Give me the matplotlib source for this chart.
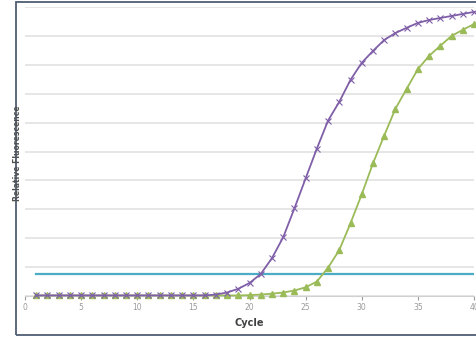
import matplotlib
matplotlib.use("Agg")
import matplotlib.pyplot as plt
from matplotlib.patches import Rectangle

cycles = list(range(1, 41))
sample_a = [0.02]*16 + [0.05, 0.12, 0.25, 0.45, 0.76, 1.31, 2.03, 3.03, 4.07, 5.10, 6.07,
            6.72, 7.48, 8.07, 8.48, 8.86, 9.10, 9.28, 9.45, 9.55, 9.62, 9.69, 9.76, 9.83]
sample_b = [0.02]*19 + [0.03, 0.05, 0.08, 0.12, 0.19, 0.30, 0.50, 0.98, 1.59, 2.52, 3.52,
            4.59, 5.55, 6.48, 7.17, 7.85, 8.31, 8.66, 9.00, 9.21, 9.41]
threshold = 0.76
x_ticks = [0, 5, 10, 15, 20, 25, 30, 35, 40]

fig = plt.figure(figsize=(4.77, 3.37), dpi=100)
fig.patch.set_facecolor("white")
# outer frame
fig.add_artist(Rectangle((16/477, 2/337), 1.2, 333/337, transform=fig.transFigure,
                         fill=False, edgecolor="#4f5d73", linewidth=1.3))

ax = fig.add_axes([25/477, (337-296)/337, 449/477, 289/337])
ax.set_xlim(0, 40)
ax.set_ylim(0, 10)
ax.set_yticks(range(0, 11))
ax.yaxis.grid(True, color="#e2e2e2", linewidth=1.2)
ax.set_axisbelow(True)
ax.tick_params(axis="y", left=False, labelleft=False)
for s in ["left", "right", "top"]:
    ax.spines[s].set_visible(False)
ax.spines["bottom"].set_color("#d0d0d0")
ax.set_xticks(x_ticks)
ax.set_xticklabels([str(t) for t in x_ticks])
ax.tick_params(axis="x", colors="#9a9a9a", labelsize=5.5, length=3, pad=2)

ax.plot([1, 40], [threshold, threshold], color="#4bacc6", linewidth=1.6, zorder=2)
ax.plot(cycles, sample_b, color="#9bbb59", marker="^", markersize=5, linewidth=1.3,
        clip_on=False, zorder=3)
ax.plot(cycles, sample_a, color="#7f5fa8", marker="x", markersize=4, markeredgewidth=0.8,
        linewidth=1.3, clip_on=False, zorder=4)

ax.set_xlabel("Cycle", fontsize=7, fontweight="bold", color="#404040", labelpad=4)
fig.text(18/477, 1 - 153/337, "Relative Fluorescence", rotation=90, fontsize=5.5,
         fontweight="bold", color="#505050", ha="center", va="center")

fig.savefig("out.png", dpi=100)
